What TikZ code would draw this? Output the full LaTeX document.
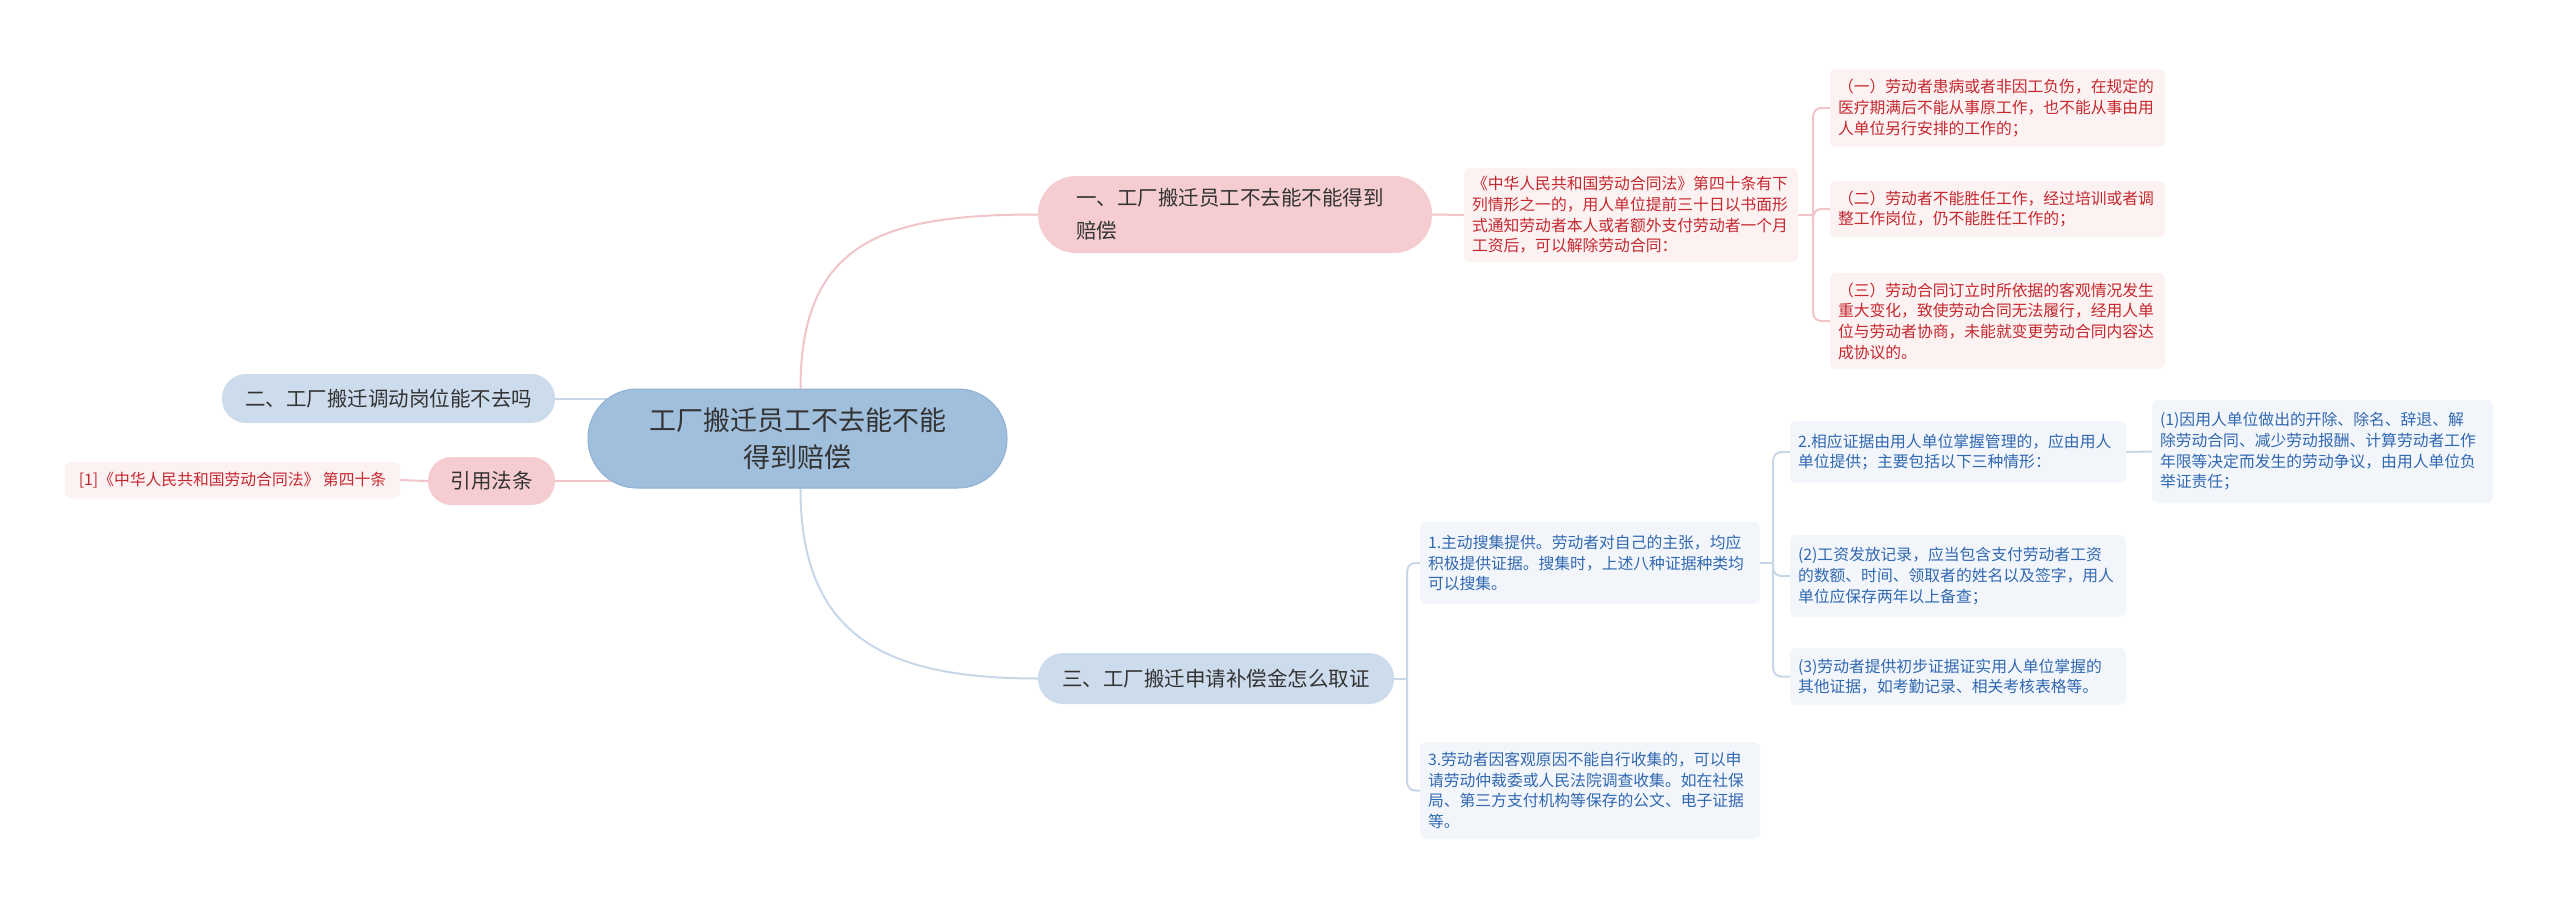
\documentclass[tikz,border=0pt]{standalone}
\usepackage{fontspec}
\newfontfamily\cjk{Noto Sans CJK SC}
\usetikzlibrary{backgrounds,calc}
\definecolor{rootfill}{HTML}{A0BFDC}
\definecolor{rootdraw}{HTML}{8FB0D2}
\definecolor{pinkfill}{HTML}{F5CDD0}
\definecolor{bluefill}{HTML}{CDDCEC}
\definecolor{pinkleaffill}{HTML}{FDF2F2}
\definecolor{blueleaffill}{HTML}{F2F6FB}
\definecolor{redtext}{HTML}{C4282F}
\definecolor{bluetext}{HTML}{3168B0}
\definecolor{darktext}{HTML}{333333}
\definecolor{pinkline}{HTML}{F0C4C8}
\definecolor{blueline}{HTML}{C8D7E8}
\begin{document}
\begin{tikzpicture}[x=1pt,y=-1pt,
  rootnode/.style={fill=rootfill,draw=rootdraw,line width=1pt,minimum width=419pt,minimum height=99pt,rounded corners=49pt,align=center,inner sep=0pt,text=darktext,font={\cjk\fontsize{27}{37}\selectfont}},
  branchbase/.style={inner sep=0pt,text=darktext,font={\cjk\fontsize{20.5}{33}\selectfont}},
  pinkbranch/.style={branchbase,fill=pinkfill},
  bluebranch/.style={branchbase,fill=bluefill},
  leafbase/.style={rounded corners=6pt,inner xsep=8pt,inner ysep=3pt,font={\cjk\fontsize{15.8}{20.7}\selectfont}},
  pinkleaf/.style={leafbase,fill=pinkleaffill,text=redtext},
  blueleaf/.style={leafbase,fill=blueleaffill,text=bluetext},
  pinkconn/.style={draw=pinkline,line width=2pt},
  blueconn/.style={draw=blueline,line width=2pt}
]
\useasboundingbox (0,0) rectangle (2560,907);

% root
\node[rootnode] (root) at (797.5,438.5) {工厂搬迁员工不去能不能\\得到赔偿};

% main branches
\node[pinkbranch,minimum width=394pt,minimum height=77pt,rounded corners=38pt,text width=318pt,align=left] (b1) at (1235,214.5) {一、工厂搬迁员工不去能不能得到\\赔偿};
\node[bluebranch,minimum width=333pt,minimum height=49pt,rounded corners=24pt] (b2) at (388.5,398.5) {二、工厂搬迁调动岗位能不去吗};
\node[pinkbranch,minimum width=127pt,minimum height=48pt,rounded corners=23.5pt] (ref) at (491.5,481) {引用法条};
\node[bluebranch,minimum width=356pt,minimum height=51pt,rounded corners=25pt] (b3) at (1216,678.5) {三、工厂搬迁申请补偿金怎么取证};

% branch 1 subtree
\node[pinkleaf,text width=318pt,align=left,minimum height=94pt] (law) at (1631,215) {《中华人民共和国劳动合同法》第四十条有下\\列情形之一的，用人单位提前三十日以书面形\\式通知劳动者本人或者额外支付劳动者一个月\\工资后，可以解除劳动合同：};
\node[pinkleaf,text width=319pt,align=left,minimum height=78pt] (l1) at (1997.5,108) {（一）劳动者患病或者非因工负伤，在规定的\\医疗期满后不能从事原工作，也不能从事由用\\人单位另行安排的工作的；};
\node[pinkleaf,text width=319pt,align=left,minimum height=56pt] (l2) at (1997.5,209) {（二）劳动者不能胜任工作，经过培训或者调\\整工作岗位，仍不能胜任工作的；};
\node[pinkleaf,text width=319pt,align=left,minimum height=96pt] (l3) at (1997.5,321) {（三）劳动合同订立时所依据的客观情况发生\\重大变化，致使劳动合同无法履行，经用人单\\位与劳动者协商，未能就变更劳动合同内容达\\成协议的。};

% reference subtree
\node[pinkleaf,minimum width=335pt,minimum height=36pt] (refc) at (232.5,480) {[1]《中华人民共和国劳动合同法》 第四十条};

% branch 3 subtree
\node[blueleaf,text width=324pt,align=left,minimum height=82pt] (c1) at (1590,563) {1.主动搜集提供。劳动者对自己的主张，均应\\积极提供证据。搜集时，上述八种证据种类均\\可以搜集。};
\node[blueleaf,text width=324pt,align=left,minimum height=97pt] (c3) at (1590,790.5) {3.劳动者因客观原因不能自行收集的，可以申\\请劳动仲裁委或人民法院调查收集。如在社保\\局、第三方支付机构等保存的公文、电子证据\\等。};
\node[blueleaf,text width=320pt,align=left,minimum height=62pt] (c2) at (1958,452) {2.相应证据由用人单位掌握管理的，应由用人\\单位提供；主要包括以下三种情形：};
\node[blueleaf,text width=320pt,align=left,minimum height=82pt] (cc2) at (1958,576) {(2)工资发放记录，应当包含支付劳动者工资\\的数额、时间、领取者的姓名以及签字，用人\\单位应保存两年以上备查；};
\node[blueleaf,text width=320pt,align=left,minimum height=57pt] (cc3) at (1958,676.5) {(3)劳动者提供初步证据证实用人单位掌握的\\其他证据，如考勤记录、相关考核表格等。};
\node[blueleaf,text width=325pt,align=left,minimum height=103pt] (cc1) at (2322.5,451.5) {(1)因用人单位做出的开除、除名、辞退、解\\除劳动合同、减少劳动报酬、计算劳动者工作\\年限等决定而发生的劳动争议，由用人单位负\\举证责任；};

% junction points
\coordinate (j1) at ($(law.east)+(15,0)$);
\coordinate (j3) at ($(b3.east)+(13,0)$);
\coordinate (j4) at ($(c1.east)+(13,0)$);

\begin{scope}[on background layer]
\fill[white] (0,0) rectangle (2560,907);
\draw[pinkconn] ($(root.north)+(3,0)$) .. controls +(0,-150) and +(-150,0) .. (b1.west);
\draw[blueconn] ($(root.south)+(3,0)$) .. controls +(0,150) and +(-150,0) .. (b3.west);
\draw[blueconn] (b2.east) -- (b2.east -| root.center);
\draw[pinkconn] (ref.east) -- (ref.east -| root.center);
\draw[pinkconn] (refc.east) -- (ref.west);
\draw[pinkconn] (b1.east) -- (law.west);
\draw[pinkconn] (law.east) -- (j1);
\draw[pinkconn,rounded corners=8pt] (j1) |- (l1.west);
\draw[pinkconn,rounded corners=8pt] (j1) |- (l2.west);
\draw[pinkconn,rounded corners=8pt] (j1) |- (l3.west);
\draw[blueconn] (b3.east) -- (j3);
\draw[blueconn,rounded corners=8pt] (j3) |- (c1.west);
\draw[blueconn,rounded corners=8pt] (j3) |- (c3.west);
\draw[blueconn] (c1.east) -- (j4);
\draw[blueconn,rounded corners=8pt] (j4) |- (c2.west);
\draw[blueconn,rounded corners=8pt] (j4) |- (cc2.west);
\draw[blueconn,rounded corners=8pt] (j4) |- (cc3.west);
\draw[blueconn] (c2.east) -- (cc1.west);
\end{scope}
\end{tikzpicture}
\end{document}
